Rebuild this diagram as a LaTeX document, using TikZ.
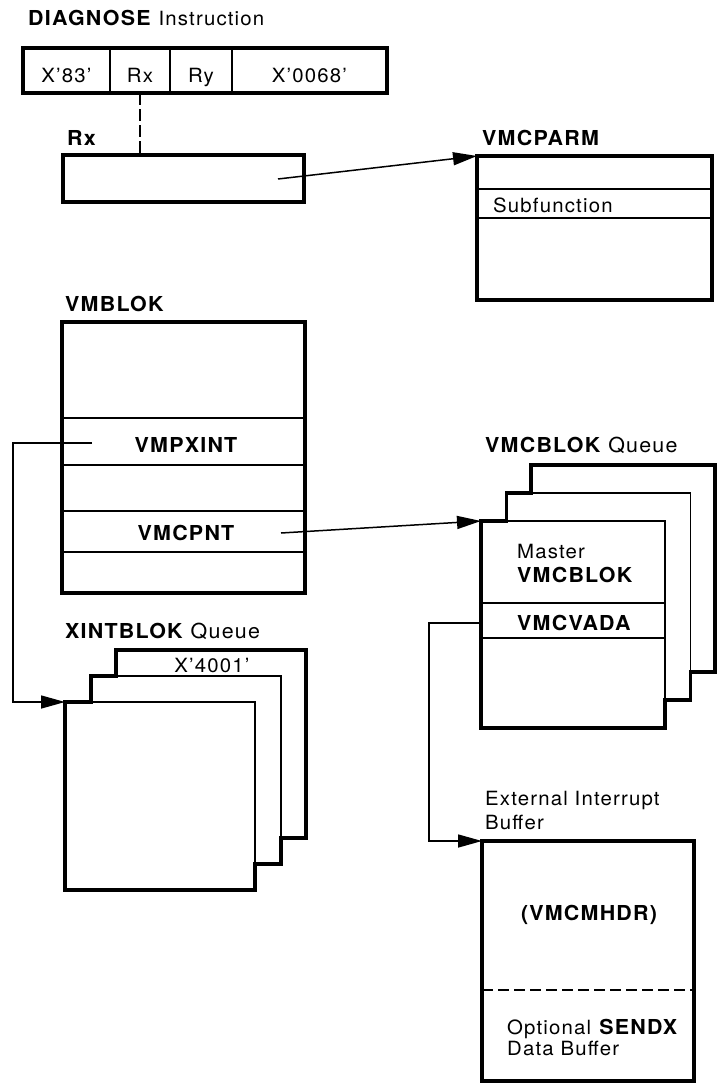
\documentclass[tikz,border=0pt]{standalone}
\usepackage{fontspec}
\setmainfont{TeX Gyre Heros}[FakeStretch=1.04,LetterSpace=6]
\usetikzlibrary{arrows.meta}
\begin{document}
\begin{tikzpicture}[x=1pt,y=-1pt,
  box/.style={draw, line width=3.4pt, inner sep=0pt, outer sep=0pt, fill=white},
  sheet/.style={draw, line width=1.4pt, inner sep=0pt, outer sep=0pt, fill=white, minimum width=#1},
  sheet/.default=184pt,
  row/.style={line width=1.4pt},
  outline/.style={line width=3.4pt, line join=miter},
  link/.style={line width=1.5pt},
  arr/.style={link, -{Triangle[length=24pt,width=13pt]}},
  txt/.style={inner sep=0pt, anchor=base west, font=\fontsize{19.6}{22}\selectfont},
  btxt/.style={txt, font=\fontsize{20.6}{23}\selectfont\bfseries},
  ctxt/.style={txt, anchor=base},
  cbtxt/.style={btxt, anchor=base}
]
\fill[white] (0,0) rectangle (720,1084);
\useasboundingbox (0,0) rectangle (720,1084);

% DIAGNOSE instruction
\node[txt] (ttl) at (28,25) {{\fontsize{20.6}{23}\selectfont\bfseries DIAGNOSE}\hspace{8pt}Instruction};
\node[box, minimum width=364pt, minimum height=45pt] (instr) at (205,70.5) {};
\foreach \xx in {110,170,232} \draw[row] (instr.north -| \xx,0) -- (instr.south -| \xx,0);
\draw[outline] (instr.north west) rectangle (instr.south east);
\node[ctxt] (f1) at (66.5,82) {X’83’};
\node[ctxt] (f2) at (140,82) {Rx};
\node[ctxt] (f3) at (201,82) {Ry};
\node[ctxt] (f4) at (309.5,82) {X’0068’};

% Rx register
\node[btxt] (rxl) at (67,145) {Rx};
\node[box, minimum width=241pt, minimum height=47pt] (rxbox) at (183.5,178.5) {};
\coordinate (rxtap) at (140,0);
\draw[link, dash pattern=on 12pt off 4pt] (instr.south -| rxtap) -- (rxbox.north -| rxtap);

% VMCPARM
\node[btxt] (parml) at (482,145) {VMCPARM};
\node[box, minimum width=235pt, minimum height=144pt] (parm) at (594.5,228) {};
\draw[row] (parm.west |- 0,189) -- (parm.east |- 0,189);
\draw[row] (parm.west |- 0,218) -- (parm.east |- 0,218);
\node[txt] (subf) at (493,212) {Subfunction};
\coordinate (rxout) at (278,179);
\draw[arr] (rxout) -- (parm.north west);

% VMBLOK
\node[btxt] (vmbl) at (65,311) {VMBLOK};
\node[box, minimum width=243pt, minimum height=271pt] (vmb) at (183.5,457.5) {};
\foreach \yy in {418,465,511,552} \draw[row] (vmb.west |- 0,\yy) -- (vmb.east |- 0,\yy);
\node[cbtxt] (pxint) at (186,452) {VMPXINT};
\node[cbtxt] (cpnt) at (186,540) {VMCPNT};

% XINTBLOK queue
\node[btxt] (xql) at (65,638) {XINTBLOK\hspace{8pt}\mdseries Queue};
\node[sheet=190pt, minimum height=188pt] (xb) at (211,744) {};
\node[sheet=190pt, minimum height=188pt] (xm) at (186,770) {};
\node[sheet=190pt, minimum height=188pt] (xf) at (160,796) {};
\draw[outline] (xf.north west) -- (xf.north west -| xm.west) -- (xm.north west) -- (xm.north west -| xb.west) -- (xb.north west) -- (xb.north east) -- (xb.south east) -- (xb.south east -| xm.east) -- (xm.south east) -- (xm.south east -| xf.east) -- (xf.south east) -- (xf.south west) -- cycle;
\node[ctxt] (x4001) at (212,672) {X’4001’};
\coordinate (pxout) at (92,443);
\draw[arr] (pxout) -- ++(-79,0) |- (xf.north west);

% VMCBLOK queue
\node[btxt] (vql) at (485,452) {VMCBLOK\hspace{8pt}\mdseries Queue};
\node[sheet, minimum height=207pt] (vb) at (623,568.5) {};
\node[sheet, minimum height=207pt] (vm) at (598.5,596.5) {};
\node[sheet, minimum height=207pt] (vf) at (573,624.5) {};
\draw[row] (vf.west |- 0,603) -- (vf.east |- 0,603);
\draw[row] (vf.west |- 0,638) -- (vf.east |- 0,638);
\draw[outline] (vf.north west) -- (vf.north west -| vm.west) -- (vm.north west) -- (vm.north west -| vb.west) -- (vb.north west) -- (vb.north east) -- (vb.south east) -- (vb.south east -| vm.east) -- (vm.south east) -- (vm.south east -| vf.east) -- (vf.south east) -- (vf.south west) -- cycle;
\node[txt] (mast) at (517,558) {Master};
\node[btxt] (mvmc) at (517,582) {VMCBLOK};
\node[btxt] (vada) at (517,630) {VMCVADA};
\coordinate (cpout) at (281,533);
\draw[arr] (cpout) -- (vf.north west);

% External interrupt buffer
\node[txt] (ebl1) at (485,805) {External Interrupt};
\node[txt] (ebl2) at (485,829) {Buffer};
\node[box, minimum width=212pt, minimum height=240pt] (buf) at (588,961) {};
\draw[row, dash pattern=on 11pt off 5pt] (buf.west |- 0,990) -- (buf.east |- 0,990);
\node[cbtxt] (hdr) at (589,920) {(VMCMHDR)};
\node[txt] (opt1) at (507,1034) {Optional \textbf{\fontsize{20.6}{23}\selectfont SENDX}};
\node[txt] (opt2) at (507,1055) {Data Buffer};
\coordinate (vadaout) at (vf.west |- 0,623);
\draw[arr] (vadaout) -- ++(-52,0) |- (buf.north west);
\end{tikzpicture}
\end{document}
